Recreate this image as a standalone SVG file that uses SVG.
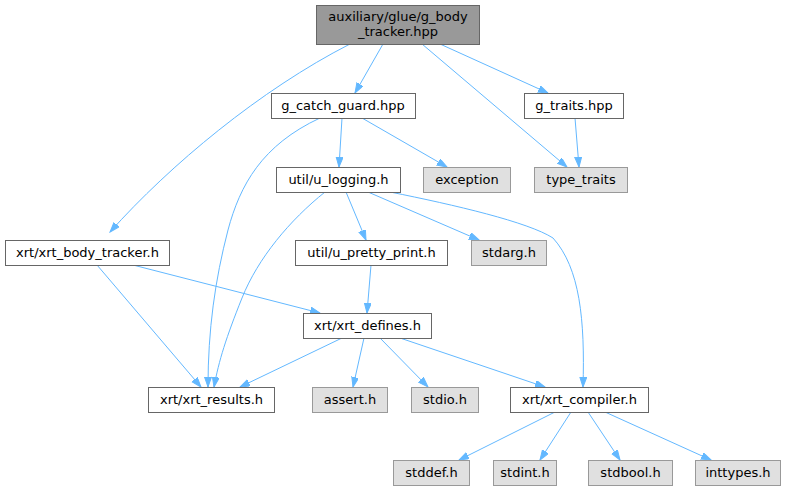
<svg xmlns="http://www.w3.org/2000/svg" width="788" height="491" viewBox="0 0 788 491">
<defs>
<marker id="ah" markerUnits="userSpaceOnUse" markerWidth="11" markerHeight="8" refX="10" refY="3.5" orient="auto">
<path d="M0,0 L10,3.5 L0,7 z" fill="#63b8ff" stroke="#63b8ff"/>
</marker>
<style>
.n rect{fill:#fff;stroke:#666;stroke-width:1}
.s rect{fill:#e0e0e0;stroke:#999;stroke-width:1}
.r rect{fill:#999;stroke:#666;stroke-width:1}
text{font-family:"DejaVu Sans","Liberation Sans",sans-serif;font-size:13px;fill:#000;text-anchor:middle}
#edges path{fill:none;stroke:#63b8ff;stroke-width:1;marker-end:url(#ah)}
</style>
</defs>
<rect width="788" height="491" fill="#fff"/>
<g id="edges">
<path d="M350,44 C260,90 170,165 110,232"/>
<path d="M383,44 L355,93"/>
<path d="M422,44 L567,167"/>
<path d="M440,44 L548,93"/>
<path d="M575,118 L579,167"/>
<path d="M362,118 L447,167"/>
<path d="M342,118 L339,167"/>
<path d="M320,118 C262,145 240,185 228,230 C215,280 208,330 208,387"/>
<path d="M325,192 C290,220 258,258 242,298 C226,338 219,360 214,387"/>
<path d="M346,192 L366,240"/>
<path d="M368,192 L479,240"/>
<path d="M390,192 C455,205 528,222 553,238 C580,268 585,320 583,387"/>
<path d="M371,265 L367,313"/>
<path d="M133,265 L320,313"/>
<path d="M97,265 L201,387"/>
<path d="M342,338 L240,387"/>
<path d="M364,338 L353,387"/>
<path d="M380,338 L428,387"/>
<path d="M400,338 L545,387"/>
<path d="M555,412 L459,460"/>
<path d="M571,412 L540,460"/>
<path d="M588,412 L620,460"/>
<path d="M605,412 L711,460"/>
</g>
<g id="root" class="r"><rect x="316.5" y="5.5" width="163" height="39"/><text x="398" y="21">auxiliary/glue/g_body</text><text x="398" y="36">_tracker.hpp</text></g>
<g id="g_catch_guard" class="n"><rect x="271.5" y="93.5" width="144" height="25"/><text x="343" y="110">g_catch_guard.hpp</text></g>
<g id="g_traits" class="n"><rect x="524.5" y="93.5" width="99" height="25"/><text x="574" y="110">g_traits.hpp</text></g>
<g id="exception" class="s"><rect x="423.5" y="167.5" width="87" height="25"/><text x="467" y="184">exception</text></g>
<g id="type_traits" class="s"><rect x="534.5" y="167.5" width="93" height="25"/><text x="581" y="184">type_traits</text></g>
<g id="u_logging" class="n"><rect x="276.5" y="167.5" width="124" height="25"/><text x="338.5" y="184">util/u_logging.h</text></g>
<g id="body_tracker" class="n"><rect x="5.5" y="240.5" width="164" height="25"/><text x="87.5" y="257">xrt/xrt_body_tracker.h</text></g>
<g id="u_pretty_print" class="n"><rect x="295.5" y="240.5" width="152" height="25"/><text x="371.5" y="257">util/u_pretty_print.h</text></g>
<g id="stdarg" class="s"><rect x="471.5" y="240.5" width="75" height="25"/><text x="509" y="257">stdarg.h</text></g>
<g id="xrt_defines" class="n"><rect x="303.5" y="313.5" width="128" height="25"/><text x="367.5" y="330">xrt/xrt_defines.h</text></g>
<g id="xrt_results" class="n"><rect x="148.5" y="387.5" width="126" height="25"/><text x="211.5" y="404">xrt/xrt_results.h</text></g>
<g id="assert" class="s"><rect x="312.5" y="387.5" width="75" height="25"/><text x="350" y="404">assert.h</text></g>
<g id="stdio" class="s"><rect x="411.5" y="387.5" width="67" height="25"/><text x="445" y="404">stdio.h</text></g>
<g id="xrt_compiler" class="n"><rect x="510.5" y="387.5" width="138" height="25"/><text x="579.5" y="404">xrt/xrt_compiler.h</text></g>
<g id="stddef" class="s"><rect x="393.5" y="460.5" width="76" height="25"/><text x="431.5" y="477">stddef.h</text></g>
<g id="stdint" class="s"><rect x="493.5" y="460.5" width="63" height="25"/><text x="525" y="477">stdint.h</text></g>
<g id="stdbool" class="s"><rect x="588.5" y="460.5" width="84" height="25"/><text x="630.5" y="477">stdbool.h</text></g>
<g id="inttypes" class="s"><rect x="695.5" y="460.5" width="85" height="25"/><text x="738" y="477">inttypes.h</text></g>
</svg>
